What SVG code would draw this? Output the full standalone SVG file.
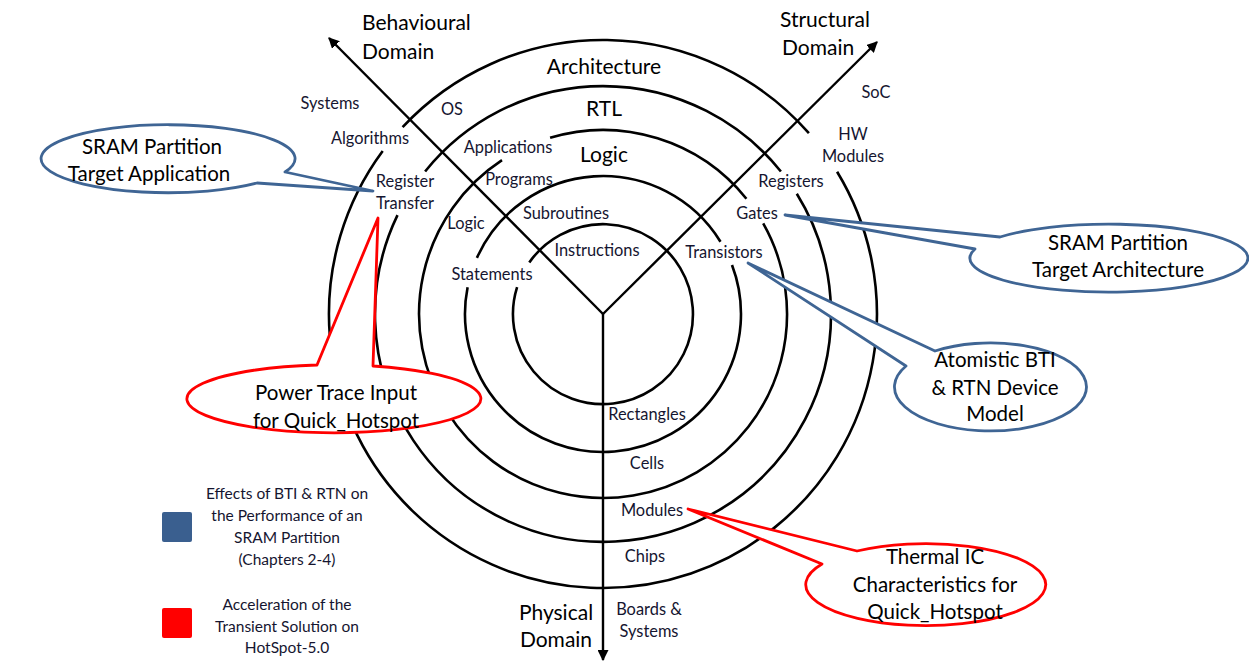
<svg xmlns="http://www.w3.org/2000/svg" width="1249" height="661" viewBox="0 0 1249 661">
  <style>
    .ring { fill: none; stroke: #000; stroke-width: 2.6; }
    .axis { fill: none; stroke: #000; stroke-width: 2.4; }
    .lbl { font-family: Lato, "Liberation Sans", sans-serif; font-size: 16.4px; fill: #151530; text-anchor: middle; }
    .lvl { font-family: Lato, "Liberation Sans", sans-serif; font-size: 21px; fill: #000; text-anchor: middle; }
    .dom { font-family: Lato, "Liberation Sans", sans-serif; font-size: 21px; fill: #000; }
    .co  { font-family: Lato, "Liberation Sans", sans-serif; font-size: 20.5px; fill: #000; text-anchor: middle; }
    .leg { font-family: Lato, "Liberation Sans", sans-serif; font-size: 15.5px; fill: #151530; text-anchor: middle; }
    .blue { fill: #fff; stroke: #3F6594; stroke-width: 2.8; stroke-linejoin: round; }
    .red  { fill: #fff; stroke: #FF0000; stroke-width: 2.8; stroke-linejoin: round; }
  </style>
  <defs>
    <marker id="arrow" viewBox="0 0 10 10" refX="9" refY="5" markerWidth="11" markerHeight="11" markerUnits="userSpaceOnUse" orient="auto">
      <path d="M0,0 L10,5 L0,10 Z" fill="#000"/>
    </marker>
  </defs>

  <rect width="1249" height="661" fill="#fff"/>

  <!-- concentric abstraction levels, broken where the labels sit -->
  <g id="rings">
    <path class="ring" d="M808.9,133.2 A274,274 0 0 0 402.6,127.1 M382.7,151.0 A274,274 0 1 0 837.1,171.7"/>
    <path class="ring" d="M780.9,171.5 A228,228 0 0 0 425.1,171.5 M397.5,215.1 A228,228 0 1 0 796.8,193.8"/>
    <path class="ring" d="M746.4,198.7 A184,184 0 0 0 550.1,137.8 M502.0,160.2 A184,184 0 1 0 763.2,223.4"/>
    <path class="ring" d="M720.5,241.7 A138,138 0 0 0 476.9,257.9 M467.6,287.2 A138,138 0 1 0 732.0,265.0"/>
    <path class="ring" d="M517.1,287.1 A90,90 0 1 0 529.3,262.4"/>
  </g>

  <!-- domain axes -->
  <g id="connectors">
    <line class="axis" x1="603" y1="314" x2="329" y2="38" marker-end="url(#arrow)"/>
    <line class="axis" x1="603" y1="314" x2="877" y2="42" marker-end="url(#arrow)"/>
    <line class="axis" x1="603" y1="314" x2="603" y2="660" marker-end="url(#arrow)"/>
  </g>

  <!-- domain titles -->
  <g id="domain-behavioural">
    <text class="dom" x="362" y="30">Behavioural</text>
    <text class="dom" x="362" y="59">Domain</text>
  </g>
  <g id="domain-structural">
    <text class="dom" x="780" y="27">Structural</text>
    <text class="dom" x="782" y="55">Domain</text>
  </g>
  <g id="domain-physical">
    <text class="lvl" x="556" y="620">Physical</text>
    <text class="lvl" x="556" y="647">Domain</text>
  </g>

  <!-- level names -->
  <g id="levels">
    <text class="lvl" x="604" y="74">Architecture</text>
    <text class="lvl" x="604" y="116">RTL</text>
    <text class="lvl" x="604" y="162">Logic</text>
  </g>

  <!-- behavioural domain entries -->
  <g id="behavioural-labels">
    <text class="lbl" x="330" y="109">Systems</text>
    <text class="lbl" x="452" y="115">OS</text>
    <text class="lbl" x="370" y="144">Algorithms</text>
    <text class="lbl" x="508" y="153">Applications</text>
    <text class="lbl" x="405" y="187">Register</text>
    <text class="lbl" x="405" y="209">Transfer</text>
    <text class="lbl" x="519" y="185">Programs</text>
    <text class="lbl" x="466" y="229">Logic</text>
    <text class="lbl" x="566" y="219">Subroutines</text>
    <text class="lbl" x="492" y="280">Statements</text>
    <text class="lbl" x="597" y="256">Instructions</text>
  </g>

  <!-- structural domain entries -->
  <g id="structural-labels">
    <text class="lbl" x="876" y="98">SoC</text>
    <text class="lbl" x="853" y="140">HW</text>
    <text class="lbl" x="853" y="162">Modules</text>
    <text class="lbl" x="791" y="187">Registers</text>
    <text class="lbl" x="757" y="219">Gates</text>
    <text class="lbl" x="724" y="258">Transistors</text>
  </g>

  <!-- physical domain entries -->
  <g id="physical-labels">
    <text class="lbl" x="647" y="420">Rectangles</text>
    <text class="lbl" x="647" y="469">Cells</text>
    <text class="lbl" x="652" y="516">Modules</text>
    <text class="lbl" x="645" y="562">Chips</text>
    <text class="lbl" x="649" y="615">Boards &amp;</text>
    <text class="lbl" x="649" y="637">Systems</text>
  </g>

  <!-- callouts -->
  <g id="callout-target-application">
    <path class="blue" d="M285,172 L373,191 L257,183 A127,34 0 1 1 285,172 Z"/>
    <text class="co" x="152" y="154">SRAM Partition</text>
    <text class="co" x="149" y="181">Target Application</text>
  </g>
  <g id="callout-target-architecture">
    <path class="blue" d="M1000,237 L785,215 L975,249 A139,34 0 1 0 1000,237 Z"/>
    <text class="co" x="1118" y="250">SRAM Partition</text>
    <text class="co" x="1118" y="277">Target Architecture</text>
  </g>
  <g id="callout-device-model">
    <path class="blue" d="M935,351 L748,263 L906,366 A96,44 0 1 0 935,351 Z"/>
    <text class="co" x="995" y="367">Atomistic BTI</text>
    <text class="co" x="995" y="395">&amp; RTN Device</text>
    <text class="co" x="995" y="421">Model</text>
  </g>
  <g id="callout-power-trace">
    <path class="red" d="M317,365 L378,218 L373,366 A147,34 0 1 1 317,365 Z"/>
    <text class="co" x="336" y="400">Power Trace Input</text>
    <text class="co" x="336" y="428">for Quick_Hotspot</text>
  </g>
  <g id="callout-thermal">
    <path class="red" d="M857,551 L688,509 L822,564 A120,41 0 1 0 857,551 Z"/>
    <text class="co" x="935" y="564">Thermal IC</text>
    <text class="co" x="935" y="592">Characteristics for</text>
    <text class="co" x="935" y="619">Quick_Hotspot</text>
  </g>

  <!-- legend -->
  <g id="legend-blue">
    <rect x="162" y="512" width="30" height="30" rx="2" fill="#3A5F8F"/>
    <text class="leg" x="287" y="499">Effects of BTI &amp; RTN on</text>
    <text class="leg" x="287" y="521">the Performance of an</text>
    <text class="leg" x="287" y="543">SRAM Partition</text>
    <text class="leg" x="287" y="565">(Chapters 2-4)</text>
  </g>
  <g id="legend-red">
    <rect x="162" y="608" width="30" height="30" rx="2" fill="#FF0000"/>
    <text class="leg" x="287" y="610">Acceleration of the</text>
    <text class="leg" x="287" y="632">Transient Solution on</text>
    <text class="leg" x="287" y="653">HotSpot-5.0</text>
  </g>
</svg>
